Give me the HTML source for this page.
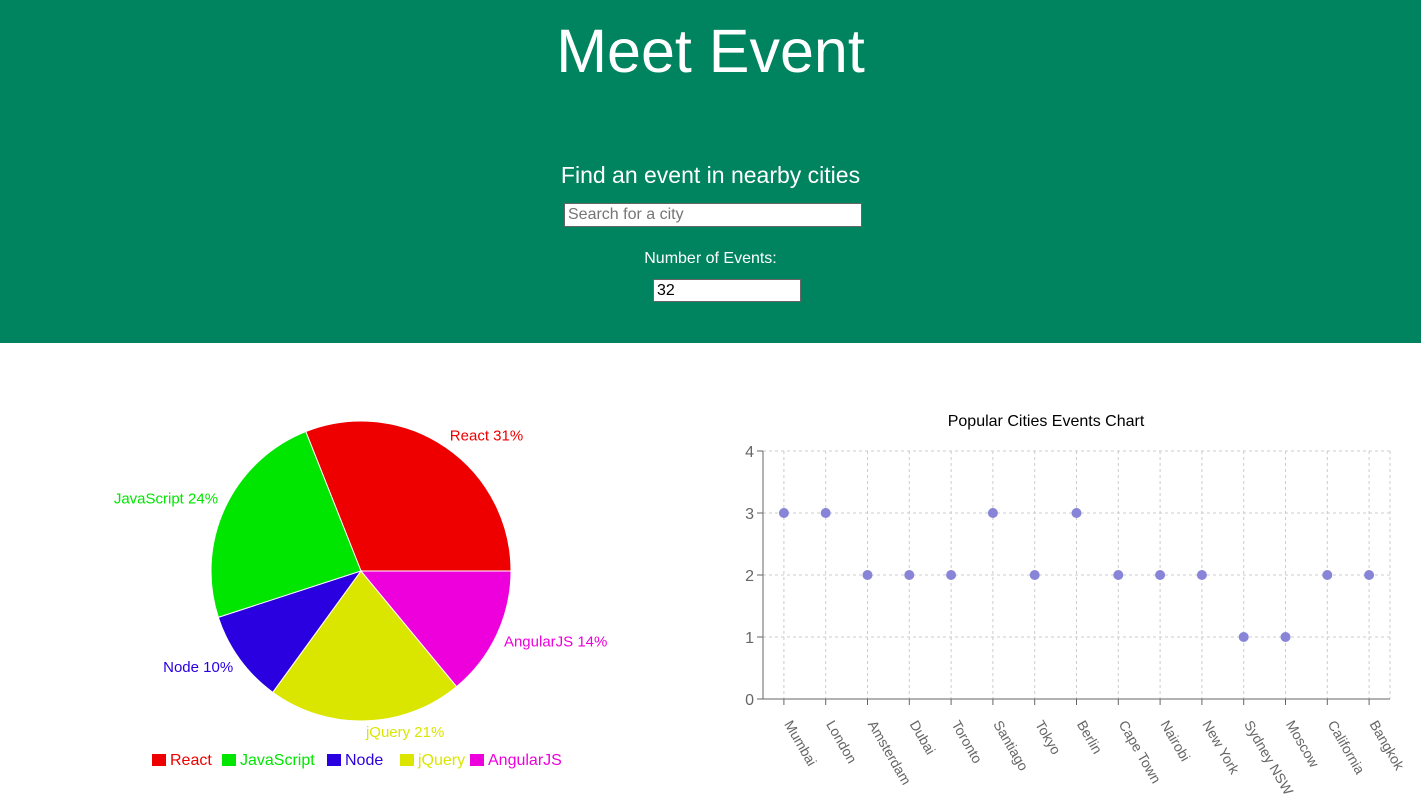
<!DOCTYPE html>
<html><head><meta charset="utf-8"><style>
body{margin:0;width:1421px;height:811px;overflow:hidden;background:#fff;font-family:"Liberation Sans",sans-serif}
#hdr{position:absolute;left:0;top:0;width:1421px;height:343px;background:#00845f;color:#fff;text-align:center}
h1{position:absolute;top:15px;left:0;width:100%;margin:0;font-weight:400;font-size:61px;line-height:72px}
.sub{position:absolute;top:162px;left:0;width:100%;font-size:23px}
input{position:absolute;border:1px solid #666;font-family:"Liberation Sans",sans-serif;font-size:16px;padding:0 3px;box-sizing:border-box}
.lab{position:absolute;top:250px;left:0;width:100%;font-size:16px}
svg{position:absolute;left:0;top:0}
</style></head><body>
<div id="hdr">
<h1>Meet Event</h1>
<div class="sub">Find an event in nearby cities</div>
<input placeholder="Search for a city" style="left:564px;top:203px;width:298px;height:24px">
<div class="lab">Number of Events:</div>
<input value="32" style="left:653px;top:279px;width:148px;height:23px;color:#000">
</div>
<svg id="chart" width="1421" height="811"></svg>
<script>
const pieLabels=["React","JavaScript","Node","jQuery","AngularJS"];
const pieValues=[31,24,10,21,14];
const pieColors=["#ee0000","#00e600","#2a00e0","#dbe600","#ee00dd"];
const cities=["Mumbai","London","Amsterdam","Dubai","Toronto","Santiago","Tokyo","Berlin","Cape Town","Nairobi","New York","Sydney NSW","Moscow","California","Bangkok"];
const counts=[3,3,2,2,2,3,2,3,2,2,2,1,1,2,2];
const yTicks=[0,1,2,3,4];
const NS="http://www.w3.org/2000/svg";
const svg=document.getElementById('chart');
function mk(t,a,txt){const e=document.createElementNS(NS,t);for(const k in a)e.setAttribute(k,a[k]);if(txt!=null)e.textContent=txt;svg.appendChild(e);return e;}
// pie
const cx=361,cy=571,r=150;
const total=pieValues.reduce((a,b)=>a+b,0);
let ang=0;
pieValues.forEach((v,i)=>{
 const a0=ang,a1=ang+v/total*2*Math.PI;ang=a1;
 const x0=cx+r*Math.cos(a0),y0=cy-r*Math.sin(a0),x1=cx+r*Math.cos(a1),y1=cy-r*Math.sin(a1);
 const large=(a1-a0)>Math.PI?1:0;
 const p=mk('path',{d:`M${cx},${cy}L${x0},${y0}A${r},${r} 0 ${large} 0 ${x1},${y1}Z`,fill:pieColors[i],stroke:'#fff','stroke-width':1});
 
 
 const m=(a0+a1)/2,lr=r+8;
 const lx=cx+lr*Math.cos(m),ly=cy-lr*Math.sin(m);
 const t=mk('text',{x:lx,y:ly+(Math.sin(m)>0?0:8),fill:pieColors[i],'font-size':15,'text-anchor':Math.cos(m)>=0?'start':'end'},pieLabels[i]+' '+Math.round(v/total*100)+'%');
 
 
});
// legend
const legW=[70,105,73,70,90];let lx0=152;
pieLabels.forEach((l,i)=>{
 const g=mk('rect',{x:lx0,y:754,width:14,height:12,fill:pieColors[i]});
 
 
 const t=mk('text',{x:lx0+18,y:765,fill:pieColors[i],'font-size':16},l);
 
 
 lx0+=legW[i];
});
// scatter
const L=763,R=1390,T=451,B=699,ymax=4;
const bw=(R-L)/cities.length;
const xs=i=>L+bw*(i+0.5), ys=v=>B-(B-T)*v/ymax;
const tt=mk('text',{x:1046,y:426,'font-size':16,'text-anchor':'middle',fill:'#000'},'Popular Cities Events Chart');


yTicks.forEach(v=>{
 if(v>0){const gl=mk('line',{x1:L,x2:R,y1:ys(v),y2:ys(v),stroke:'#ccc','stroke-dasharray':'3 3'});}
 const tk=mk('line',{x1:L-6,x2:L,y1:ys(v),y2:ys(v),stroke:'#666'});
 const t=mk('text',{x:L-9,y:ys(v)+6,'font-size':16,'text-anchor':'end',fill:'#666'},v);
 
 
});
cities.forEach((c,i)=>{
 const x=xs(i);
 const gl=mk('line',{x1:x,x2:x,y1:T,y2:B,stroke:'#ccc','stroke-dasharray':'3 3'});
 const tk=mk('line',{x1:x,x2:x,y1:B,y2:B+6,stroke:'#666'});
 const t=mk('text',{x:x,y:B+25,'font-size':14,fill:'#666',transform:`rotate(60 ${x} ${B+25})`},c);
 
 
});
const vr=mk('line',{x1:R,x2:R,y1:T,y2:B,stroke:'#ccc','stroke-dasharray':'3 3'});
const ya=mk('line',{x1:L,x2:L,y1:T,y2:B,stroke:'#666'});
const xa=mk('line',{x1:L,x2:R,y1:B,y2:B,stroke:'#666'});
counts.forEach((v,i)=>{
 const p=mk('circle',{cx:xs(i),cy:ys(v),r:5,fill:'#8884d8'});
 
 
});
</script>
</body></html>
